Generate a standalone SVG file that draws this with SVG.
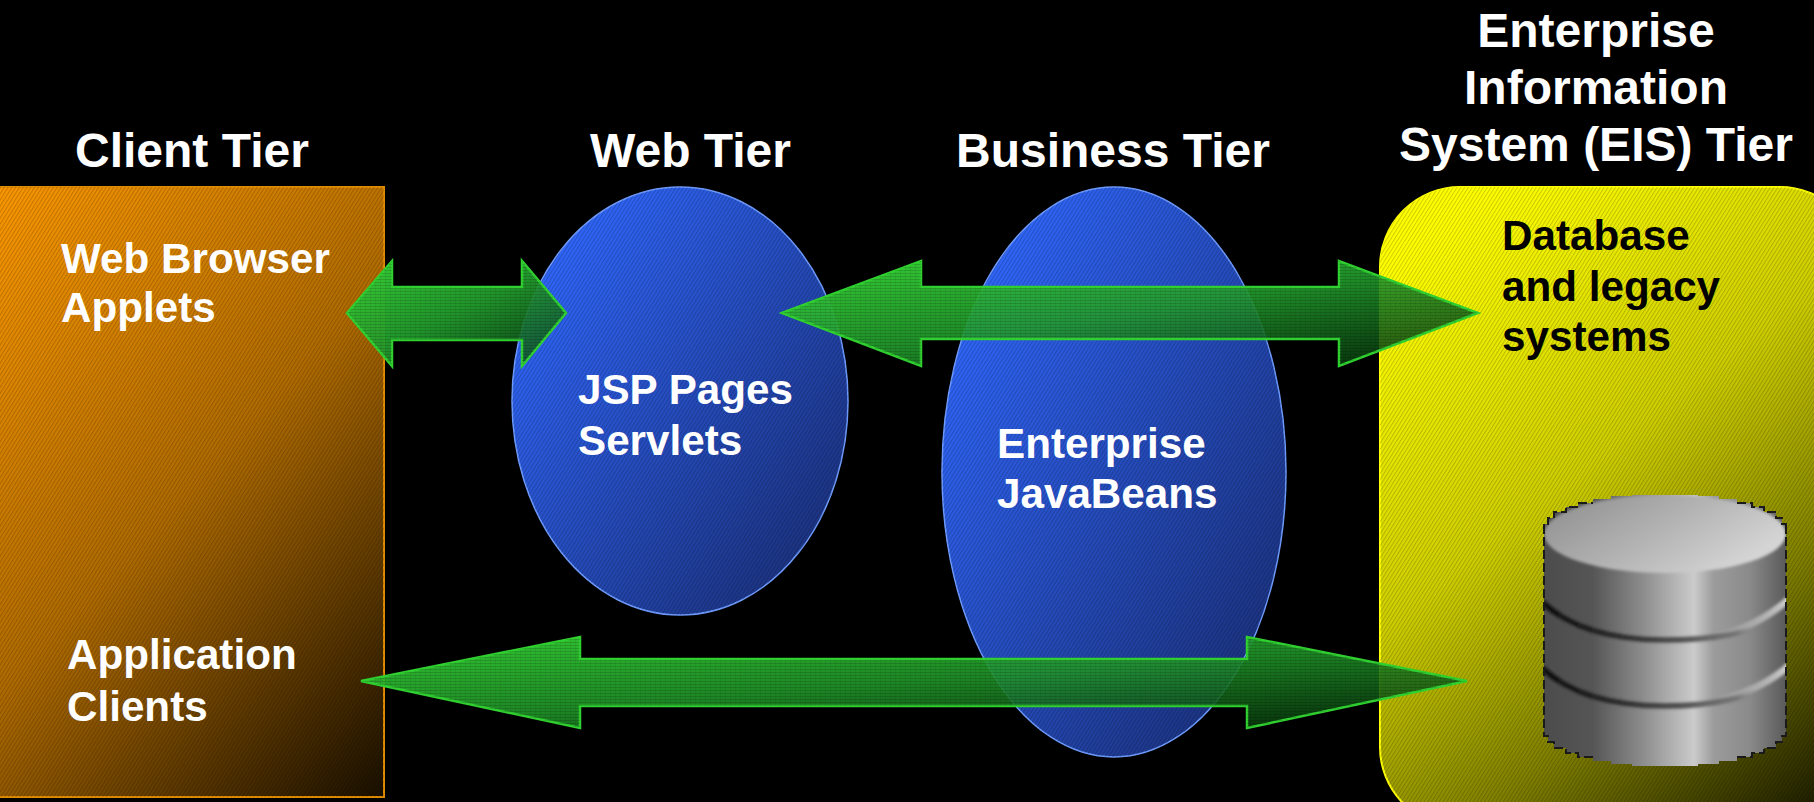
<svg xmlns="http://www.w3.org/2000/svg" width="1814" height="802" viewBox="0 0 1814 802">
<style>
text{font-family:"Liberation Sans",Arial,sans-serif;font-weight:700}
.t{fill:#fff;font-size:48px}
.n{fill:#fff;font-size:42.2px}
.k{fill:#000;font-size:42.2px}
.h{fill:url(#hatch)}
.ah{fill:url(#ahatch);stroke:none}
.a{stroke:#30d030;stroke-width:2.5;stroke-linejoin:miter}
</style>
<defs>
<linearGradient id="og" gradientUnits="userSpaceOnUse" x1="-90" y1="290" x2="460" y2="800"><stop offset="0" stop-color="#f99600"/><stop offset=".45" stop-color="#b06b00"/><stop offset="1" stop-color="#000"/></linearGradient>
<linearGradient id="yg" gradientUnits="userSpaceOnUse" x1="1400" y1="260" x2="1830" y2="800"><stop offset="0" stop-color="#ffff00"/><stop offset=".4" stop-color="#cfcf00"/><stop offset=".7" stop-color="#808000"/><stop offset="1" stop-color="#1c1c00"/></linearGradient>
<linearGradient id="bg" x1=".1" y1=".1" x2=".95" y2=".9"><stop offset="0" stop-color="#3068ff"/><stop offset="1" stop-color="#1a2f78"/></linearGradient>
<linearGradient id="g1" x1="0" y1="0" x2="1" y2="1"><stop offset="0" stop-color="#36d036"/><stop offset=".5" stop-color="#229a2c" stop-opacity=".95"/><stop offset="1" stop-color="#0a4418" stop-opacity=".82"/></linearGradient>
<linearGradient id="g2" x1="0" y1="0" x2="1" y2="1"><stop offset="0" stop-color="#36d036"/><stop offset=".5" stop-color="#229a2c" stop-opacity=".9"/><stop offset="1" stop-color="#042a08" stop-opacity=".85"/></linearGradient>
<linearGradient id="g3" x1="0" y1="0" x2="1" y2="1"><stop offset="0" stop-color="#33c933"/><stop offset=".5" stop-color="#209428" stop-opacity=".9"/><stop offset="1" stop-color="#042a08" stop-opacity=".85"/></linearGradient>
<linearGradient id="side"><stop offset="0" stop-color="#4c4c4c"/><stop offset=".2" stop-color="#555"/><stop offset=".4" stop-color="#8a8a8a"/><stop offset=".62" stop-color="#cbcbcb"/><stop offset=".7" stop-color="#9c9c9c"/><stop offset=".85" stop-color="#8a8a8a"/><stop offset="1" stop-color="#5a5a5a"/></linearGradient>
<linearGradient id="top" x1="0" y1="0" x2="1" y2=".5"><stop offset="0" stop-color="#8c8c8c"/><stop offset=".55" stop-color="#b2b2b2"/><stop offset="1" stop-color="#d4d4d4"/></linearGradient>
<linearGradient id="band" gradientUnits="userSpaceOnUse" x1="1545" y1="0" x2="1785" y2="0"><stop offset="0" stop-color="#0c0c0c"/><stop offset=".3" stop-color="#2a2a2a"/><stop offset=".6" stop-color="#555"/><stop offset=".8" stop-color="#666" stop-opacity=".7"/><stop offset=".88" stop-color="#888" stop-opacity="0"/></linearGradient>
<linearGradient id="glow" gradientUnits="userSpaceOnUse" x1="1715" y1="0" x2="1786" y2="0"><stop offset="0" stop-color="#ccc" stop-opacity="0"/><stop offset="1" stop-color="#e0e0e0" stop-opacity=".85"/></linearGradient>
<pattern id="hatch" width="3.2" height="3.2" patternUnits="userSpaceOnUse" patternTransform="rotate(-58)"><rect width="3.2" height="1" fill="#000" fill-opacity=".2"/></pattern>
<pattern id="ahatch" width="5" height="3" patternUnits="userSpaceOnUse"><rect width="5" height="1" fill="#000" fill-opacity=".14"/><rect width="1" height="3" fill="#000" fill-opacity=".06"/></pattern>
<clipPath id="cyl"><path d="M1544 534V524H1548V518H1554V512H1566V507H1578V503H1593V499H1611V496H1632V495H1698V496H1719V499H1737V503H1752V507H1764V512H1776V518H1782V524H1786V736H1782V742H1776V748H1764V753H1752V757H1737V761H1719V764H1698V766H1632V764H1611V761H1593V757H1578V753H1566V748H1554V742H1548V736H1544Z"/></clipPath>
<filter id="soft" x="-5%" y="-20%" width="110%" height="140%"><feGaussianBlur stdDeviation="1.6"/></filter>
</defs>
<rect width="1814" height="802" fill="#000"/>
<g id="client-tier">
<rect x="-4" y="187" width="388" height="610" fill="url(#og)" stroke="#e08c00" stroke-width="2"/>
<rect x="-4" y="187" width="388" height="610" class="h"/>
<text class="t" x="75" y="167">Client Tier</text>
<text class="n" x="61" y="273">Web Browser</text>
<text class="n" x="61" y="322">Applets</text>
<text class="n" x="67" y="669">Application</text>
<text class="n" x="67" y="721">Clients</text>
</g>
<g id="web-tier">
<ellipse cx="680" cy="401" rx="168" ry="214" fill="url(#bg)" stroke="#6f9cff" stroke-width="1.5"/>
<ellipse cx="680" cy="401" rx="168" ry="214" class="h"/>
<text class="t" x="590" y="167">Web Tier</text>
<text class="n" x="578" y="404">JSP Pages</text>
<text class="n" x="578" y="455">Servlets</text>
</g>
<g id="business-tier">
<ellipse cx="1114" cy="472" rx="172" ry="285" fill="url(#bg)" stroke="#6f9cff" stroke-width="1.5"/>
<ellipse cx="1114" cy="472" rx="172" ry="285" class="h"/>
<text class="t" x="956" y="167">Business Tier</text>
<text class="n" x="997" y="458">Enterprise</text>
<text class="n" x="997" y="508">JavaBeans</text>
</g>
<g id="eis-tier">
<rect x="1380" y="187" width="480" height="640" rx="80" fill="url(#yg)" stroke="#ffff00" stroke-width="2"/>
<rect x="1380" y="187" width="480" height="640" rx="80" class="h"/>
<text class="t" x="1596" y="47" text-anchor="middle">Enterprise</text>
<text class="t" x="1596" y="104" text-anchor="middle">Information</text>
<text class="t" x="1596" y="161" text-anchor="middle">System (EIS) Tier</text>
<text class="k" x="1502" y="250">Database</text>
<text class="k" x="1502" y="301">and legacy</text>
<text class="k" x="1502" y="351">systems</text>
</g>
<g id="database">
<g clip-path="url(#cyl)">
<rect x="1544" y="495" width="242" height="271" fill="url(#side)"/>
<g filter="url(#soft)">
<ellipse cx="1665" cy="534" rx="121" ry="39" fill="url(#top)"/>
<path d="M1715 636C1745 630 1770 616 1790 598" fill="none" stroke="url(#glow)" stroke-width="7"/>
<path d="M1715 700C1745 695 1770 682 1790 665" fill="none" stroke="url(#glow)" stroke-width="7"/>
<path d="M1542 602C1570 628 1610 640 1665 640S1745 632 1765 624" fill="none" stroke="url(#band)" stroke-width="5.5"/>
<path d="M1542 668C1570 694 1610 706 1665 706S1745 696 1765 688" fill="none" stroke="url(#band)" stroke-width="5.5"/>
</g>
</g>
<path d="M1544 534V524H1548V518H1554V512H1566V507H1578V503H1593M1737 503H1752V507H1764V512H1776V518H1782V524H1786V534M1544 524V736H1548V742H1554V748H1566V753H1578V757H1593M1737 757H1752V753H1764V748H1776V742H1782V736H1786V524" fill="none" stroke="#1a1a1a" stroke-width="2" stroke-dasharray="9 4" shape-rendering="crispEdges"/>
</g>
<g id="connectors">
<g class="a">
<path id="arrow-client-web" d="M347 313L392 261V287H522V261L566 313L522 366V340H392V366Z" fill="url(#g1)"/>
<path d="M347 313L392 261V287H522V261L566 313L522 366V340H392V366Z" class="ah"/>
<path id="arrow-web-eis" d="M782 313L921 261V287H1339V261L1478 313L1339 366V339H921V366Z" fill="url(#g2)"/>
<path d="M782 313L921 261V287H1339V261L1478 313L1339 366V339H921V366Z" class="ah"/>
<path id="arrow-client-eis" d="M361 681L580 637V659H1247V637L1467 681L1247 728V706H580V728Z" fill="url(#g3)"/>
<path d="M361 681L580 637V659H1247V637L1467 681L1247 728V706H580V728Z" class="ah"/>
</g>
</g>
</svg>
